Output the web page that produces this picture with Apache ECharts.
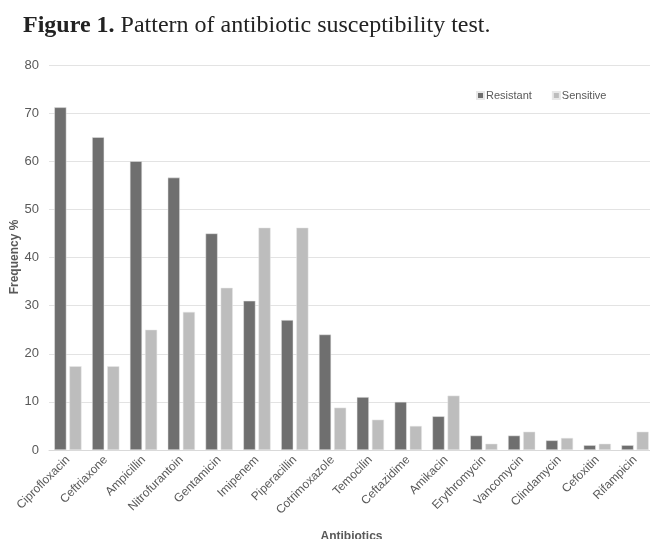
<!DOCTYPE html>
<html>
<head>
<meta charset="utf-8">
<script src="https://cdn.jsdelivr.net/npm/echarts@6/dist/echarts.min.js"></script>
<style>
html, body { margin: 0; padding: 0; background: #fff; }
#chart { width: 650px; height: 539px; }
</style>
</head>
<body>
<div id="chart"></div>
<script>
// antibiotics, percentages
var antibiotics = ['Ciprofloxacin', 'Ceftriaxone', 'Ampicillin', 'Nitrofurantoin', 'Gentamicin',
	'Imipenem', 'Piperacillin', 'Cotrimoxazole', 'Temocilin', 'Ceftazidime', 'Amikacin',
	'Erythromycin', 'Vancomycin', 'Clindamycin', 'Cefoxitin', 'Rifampicin'];
var resistant = [71.2, 65, 60, 56.6, 45, 31, 27, 24, 11, 10, 7, 3, 3, 2, 1, 1];
var sensitive = [17.4, 17.4, 25, 28.7, 33.7, 46.2, 46.2, 8.8, 6.3, 5, 11.3, 1.3, 3.8, 2.5, 1.3, 3.8];
var yTicks = [0, 80, 10];

var chart = echarts.init(document.getElementById('chart'));

function barSeries(name, data, color) {
	return {
		name: name,
		type: 'bar',
		data: data,
		barGap: '25%',
		barCategoryGap: '28%',
		itemStyle: { color: color, borderColor: '#e8e8e8', borderWidth: 0.5 }
	};
}

chart.setOption({
	animation: false,
	title: {
		text: '{b|Figure 1.} Pattern of antibiotic susceptibility test.',
		left: 18,
		top: 9,
		textStyle: {
			fontFamily: 'Liberation Serif',
			fontSize: 24,
			fontWeight: 'normal',
			color: '#222',
			rich: {
				b: { fontFamily: 'Liberation Serif', fontSize: 24, fontWeight: 'bold', color: '#222' }
			}
		}
	},
	legend: {
		top: 85,
		left: 471,
		itemWidth: 7,
		itemHeight: 7,
		itemGap: 20,
		icon: 'rect',
		textStyle: { fontFamily: 'Liberation Sans', fontSize: 11, color: '#595959', padding: [0, 0, 0, -3] },
		data: ['Resistant', 'Sensitive']
	},
	// y axis title drawn by hand, the axis name kept getting pushed to the edge
	graphic: [{
		type: 'text',
		x: 15,
		y: 257,
		rotation: Math.PI / 2,
		style: {
			text: 'Frequency %',
			fontFamily: 'Liberation Sans',
			fontSize: 12,
			fontWeight: 'bold',
			fill: '#595959',
			align: 'center',
			verticalAlign: 'middle'
		}
	}],
	grid: { left: 49, right: -4, top: 65, bottom: 89, containLabel: false, outerBoundsMode: 'none' },
	xAxis: {
		type: 'category',
		data: antibiotics,
		name: 'Antibiotics',
		nameLocation: 'middle',
		nameGap: 81,
		nameTextStyle: { fontFamily: 'Liberation Sans', fontSize: 12, fontWeight: 'bold', color: '#595959' },
		axisLine: { lineStyle: { color: '#d9d9d9' } },
		axisTick: { show: false },
		axisLabel: {
			rotate: 45,
			interval: 0,
			margin: 8,
			fontFamily: 'Liberation Sans',
			fontSize: 12,
			color: '#595959'
		}
	},
	yAxis: {
		type: 'value',
		min: yTicks[0],
		max: yTicks[1],
		interval: yTicks[2],
		axisLine: { show: false },
		axisTick: { show: false },
		axisLabel: { fontFamily: 'Liberation Sans', fontSize: 13, color: '#595959', margin: 10 },
		splitLine: { lineStyle: { color: '#e3e3e3' } }
	},
	series: [
		barSeries('Resistant', resistant, '#6f6f6f'),
		barSeries('Sensitive', sensitive, '#bdbdbd')
	]
});
</script>
</body>
</html>
